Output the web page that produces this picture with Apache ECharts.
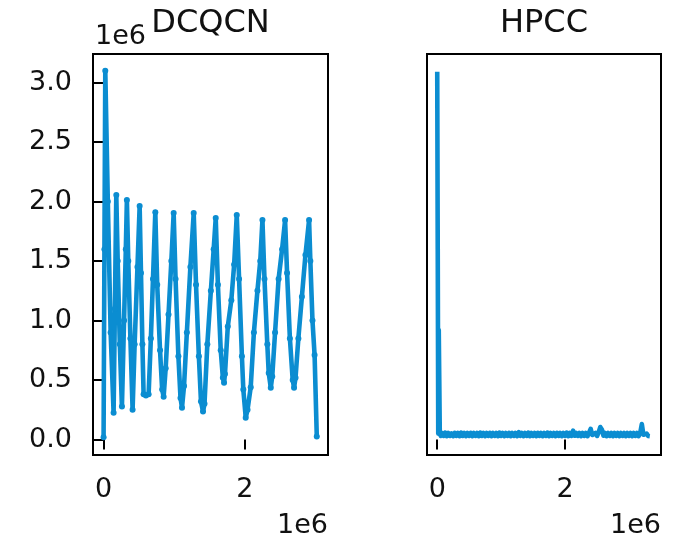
<!DOCTYPE html>
<html>
<head>
<meta charset="utf-8">
<script src="https://cdn.jsdelivr.net/npm/echarts@6/dist/echarts.min.js"></script>
<style>
html,body{margin:0;padding:0;background:#fff;}
#chart{width:674px;height:539px;}
</style>
</head>
<body>
<div id="chart"></div>
<script>
// ---- data (x and y in units of 1e6) ----
var titles = ['DCQCN', 'HPCC'];
var yTicks = [0, 0.5, 1.0, 1.5, 2.0, 2.5, 3.0];
var xTicks = [0, 2];
var offsetLabel = '1e6';

var dcqcnX = [0.000, 0.012, 0.024, 0.060, 0.100, 0.142, 0.160, 0.180,
  0.200, 0.230, 0.260, 0.290, 0.315, 0.330,
  0.350, 0.380, 0.411, 0.440, 0.480, 0.511,
  0.530, 0.550, 0.567, 0.600, 0.638, 0.670, 0.700, 0.733,
  0.760, 0.800, 0.830, 0.851, 0.880, 0.920, 0.960, 0.993,
  1.020, 1.060, 1.090, 1.111, 1.140, 1.180, 1.230, 1.277,
  1.310, 1.350, 1.380, 1.409, 1.430, 1.470, 1.520, 1.560, 1.589,
  1.620, 1.660, 1.690, 1.707, 1.720, 1.760, 1.810, 1.850, 1.887,
  1.920, 1.960, 1.980, 2.014, 2.040, 2.085, 2.130, 2.180, 2.220, 2.251,
  2.280, 2.320, 2.340, 2.369, 2.390, 2.430, 2.480, 2.530, 2.572,
  2.600, 2.640, 2.680, 2.699, 2.720, 2.760, 2.810, 2.860, 2.912,
  2.930, 2.960, 2.990, 3.021];
var dcqcnY = [0.02, 1.60, 3.10, 2.00, 0.90, 0.226, 1.10, 2.054,
  1.50, 0.80, 0.277, 1.00, 1.60, 2.012,
  1.50, 0.85, 0.251, 0.80, 1.45, 1.962,
  1.40, 0.80, 0.380, 0.370, 0.380, 0.85, 1.35, 1.911,
  1.30, 0.75, 0.42, 0.360, 0.60, 1.05, 1.50, 1.903,
  1.35, 0.70, 0.35, 0.268, 0.45, 0.90, 1.45, 1.903,
  1.30, 0.70, 0.32, 0.235, 0.30, 0.80, 1.25, 1.60, 1.861,
  1.30, 0.75, 0.52, 0.478, 0.55, 0.95, 1.17, 1.47, 1.886,
  1.35, 0.70, 0.42, 0.184, 0.25, 0.44, 0.90, 1.25, 1.50, 1.844,
  1.35, 0.80, 0.56, 0.436, 0.53, 0.90, 1.35, 1.60, 1.844,
  1.40, 0.85, 0.50, 0.436, 0.52, 0.85, 1.20, 1.55, 1.844,
  1.50, 1.00, 0.71, 0.025];

// HPCC: initial burst, then the long flat (noisy) stretch
var hpccHeadX = [0, 0.008, 0.016, 0.024, 0.032, 0.040, 0.055];
var hpccHeadY = [3.09, 1.60, 0.05, 0.92, 0.50, 0.06, 0.030];
var hpccTailX = [
  0.075, 0.100, 0.125, 0.150, 0.175, 0.200, 0.225, 0.250,
  0.275, 0.300, 0.325, 0.350, 0.375, 0.400, 0.425, 0.450,
  0.475, 0.500, 0.525, 0.550, 0.575, 0.600, 0.625, 0.650,
  0.675, 0.700, 0.725, 0.750, 0.775, 0.800, 0.825, 0.850,
  0.875, 0.900, 0.925, 0.950, 0.975, 1.000, 1.025, 1.050,
  1.075, 1.100, 1.125, 1.150, 1.175, 1.200, 1.225, 1.250,
  1.275, 1.300, 1.325, 1.350, 1.375, 1.400, 1.425, 1.450,
  1.475, 1.500, 1.525, 1.550, 1.575, 1.600, 1.625, 1.650,
  1.675, 1.700, 1.725, 1.750, 1.775, 1.800, 1.825, 1.850,
  1.875, 1.900, 1.925, 1.950, 1.975, 2.000, 2.025, 2.050,
  2.075, 2.100, 2.125, 2.150, 2.175, 2.200, 2.225, 2.250,
  2.275, 2.300, 2.325, 2.350, 2.375, 2.400, 2.425, 2.450,
  2.475, 2.500, 2.525, 2.550, 2.575, 2.600, 2.625, 2.650,
  2.675, 2.700, 2.725, 2.750, 2.775, 2.800, 2.825, 2.850,
  2.875, 2.900, 2.925, 2.950, 2.975, 3.000, 3.025, 3.050,
  3.075, 3.100, 3.125, 3.150, 3.175, 3.200, 3.225, 3.250,
  3.275, 3.300, 3.325];
var hpccTailY = [
  0.055, 0.030, 0.058, 0.028, 0.055, 0.030, 0.052, 0.028,
  0.056, 0.030, 0.055, 0.028, 0.058, 0.030, 0.055, 0.028,
  0.055, 0.030, 0.056, 0.028, 0.055, 0.030, 0.055, 0.028,
  0.058, 0.030, 0.055, 0.028, 0.055, 0.030, 0.056, 0.028,
  0.055, 0.030, 0.055, 0.028, 0.058, 0.030, 0.055, 0.028,
  0.055, 0.030, 0.056, 0.028, 0.055, 0.030, 0.055, 0.028,
  0.062, 0.030, 0.055, 0.028, 0.055, 0.030, 0.058, 0.028,
  0.055, 0.030, 0.055, 0.028, 0.056, 0.030, 0.055, 0.028,
  0.055, 0.030, 0.058, 0.028, 0.055, 0.030, 0.055, 0.028,
  0.056, 0.030, 0.055, 0.028, 0.055, 0.030, 0.058, 0.028,
  0.055, 0.030, 0.075, 0.032, 0.055, 0.030, 0.055, 0.028,
  0.055, 0.030, 0.055, 0.028, 0.058, 0.090, 0.038, 0.028,
  0.055, 0.030, 0.060, 0.105, 0.085, 0.032, 0.055, 0.028,
  0.055, 0.030, 0.055, 0.028, 0.055, 0.030, 0.055, 0.028,
  0.055, 0.030, 0.055, 0.028, 0.055, 0.030, 0.055, 0.028,
  0.055, 0.030, 0.055, 0.028, 0.055, 0.130, 0.040, 0.028,
  0.050, 0.030, 0.028];

function zip(xs, ys) {
  var n = Math.min(xs.length, ys.length), out = [];
  for (var i = 0; i < n; i++) out.push([xs[i], ys[i]]);
  return out;
}

var FONT = 'DejaVu Sans';
var TXT = '#111';
var LINE_COLOR = '#0b8dd1';
var chart = echarts.init(document.getElementById('chart'), null, {renderer: 'canvas'});

function xAxisOpt(gi, min, max) {
  return {
    type: 'value', gridIndex: gi, min: min, max: max,
    axisLine: {show: false},
    splitLine: {show: false},
    axisTick: {show: true, customValues: xTicks, length: 10, lineStyle: {color: '#000', width: 2}},
    axisLabel: {show: true, customValues: xTicks, margin: 21, fontFamily: FONT, fontSize: 27, color: TXT,
      formatter: function (v) { return String(Math.round(v)); }}
  };
}
function yAxisOpt(gi, showLabels) {
  return {
    type: 'value', gridIndex: gi, min: -0.13, max: 3.24,
    axisLine: {show: false},
    splitLine: {show: false},
    axisTick: {show: showLabels, customValues: yTicks, length: 10, lineStyle: {color: '#000', width: 2}},
    axisLabel: {show: showLabels, customValues: yTicks, margin: 21, fontFamily: FONT, fontSize: 27, color: TXT,
      formatter: function (v) { return v.toFixed(1); }}
  };
}

var option = {
  animation: false,
  backgroundColor: '#fff',
  grid: [
    {left: 93, top: 54, width: 235, height: 401, show: true, borderColor: '#000', borderWidth: 2, backgroundColor: 'transparent'},
    {left: 427, top: 54, width: 234, height: 401, show: true, borderColor: '#000', borderWidth: 2, backgroundColor: 'transparent'}
  ],
  xAxis: [xAxisOpt(0, -0.15, 3.18), xAxisOpt(1, -0.16, 3.50)],
  yAxis: [yAxisOpt(0, true), yAxisOpt(1, false)],
  series: [
    {type: 'line', xAxisIndex: 0, yAxisIndex: 0, data: zip(dcqcnX, dcqcnY),
      showSymbol: true, showAllSymbol: true, symbol: 'circle', symbolSize: 6,
      itemStyle: {color: LINE_COLOR}, lineStyle: {color: LINE_COLOR, width: 4.6, join: 'round'}},
    {type: 'line', xAxisIndex: 1, yAxisIndex: 1,
      data: zip(hpccHeadX, hpccHeadY).concat(zip(hpccTailX, hpccTailY)),
      showSymbol: false,
      itemStyle: {color: LINE_COLOR}, lineStyle: {color: LINE_COLOR, width: 4.6, join: 'round'}}
  ],
  graphic: [
    {type: 'text', x: 210.5, y: 24, style: {text: titles[0], fontFamily: FONT, fontSize: 32, fill: TXT, textAlign: 'center', textVerticalAlign: 'middle'}},
    {type: 'text', x: 544, y: 24, style: {text: titles[1], fontFamily: FONT, fontSize: 32, fill: TXT, textAlign: 'center', textVerticalAlign: 'middle'}},
    {type: 'text', x: 95, y: 37, style: {text: offsetLabel, fontFamily: FONT, fontSize: 27, fill: TXT, textAlign: 'left', textVerticalAlign: 'middle'}},
    {type: 'text', x: 328, y: 526, style: {text: offsetLabel, fontFamily: FONT, fontSize: 27, fill: TXT, textAlign: 'right', textVerticalAlign: 'middle'}},
    {type: 'text', x: 661, y: 526, style: {text: offsetLabel, fontFamily: FONT, fontSize: 27, fill: TXT, textAlign: 'right', textVerticalAlign: 'middle'}}
  ]
};
chart.setOption(option);
</script>
</body>
</html>
